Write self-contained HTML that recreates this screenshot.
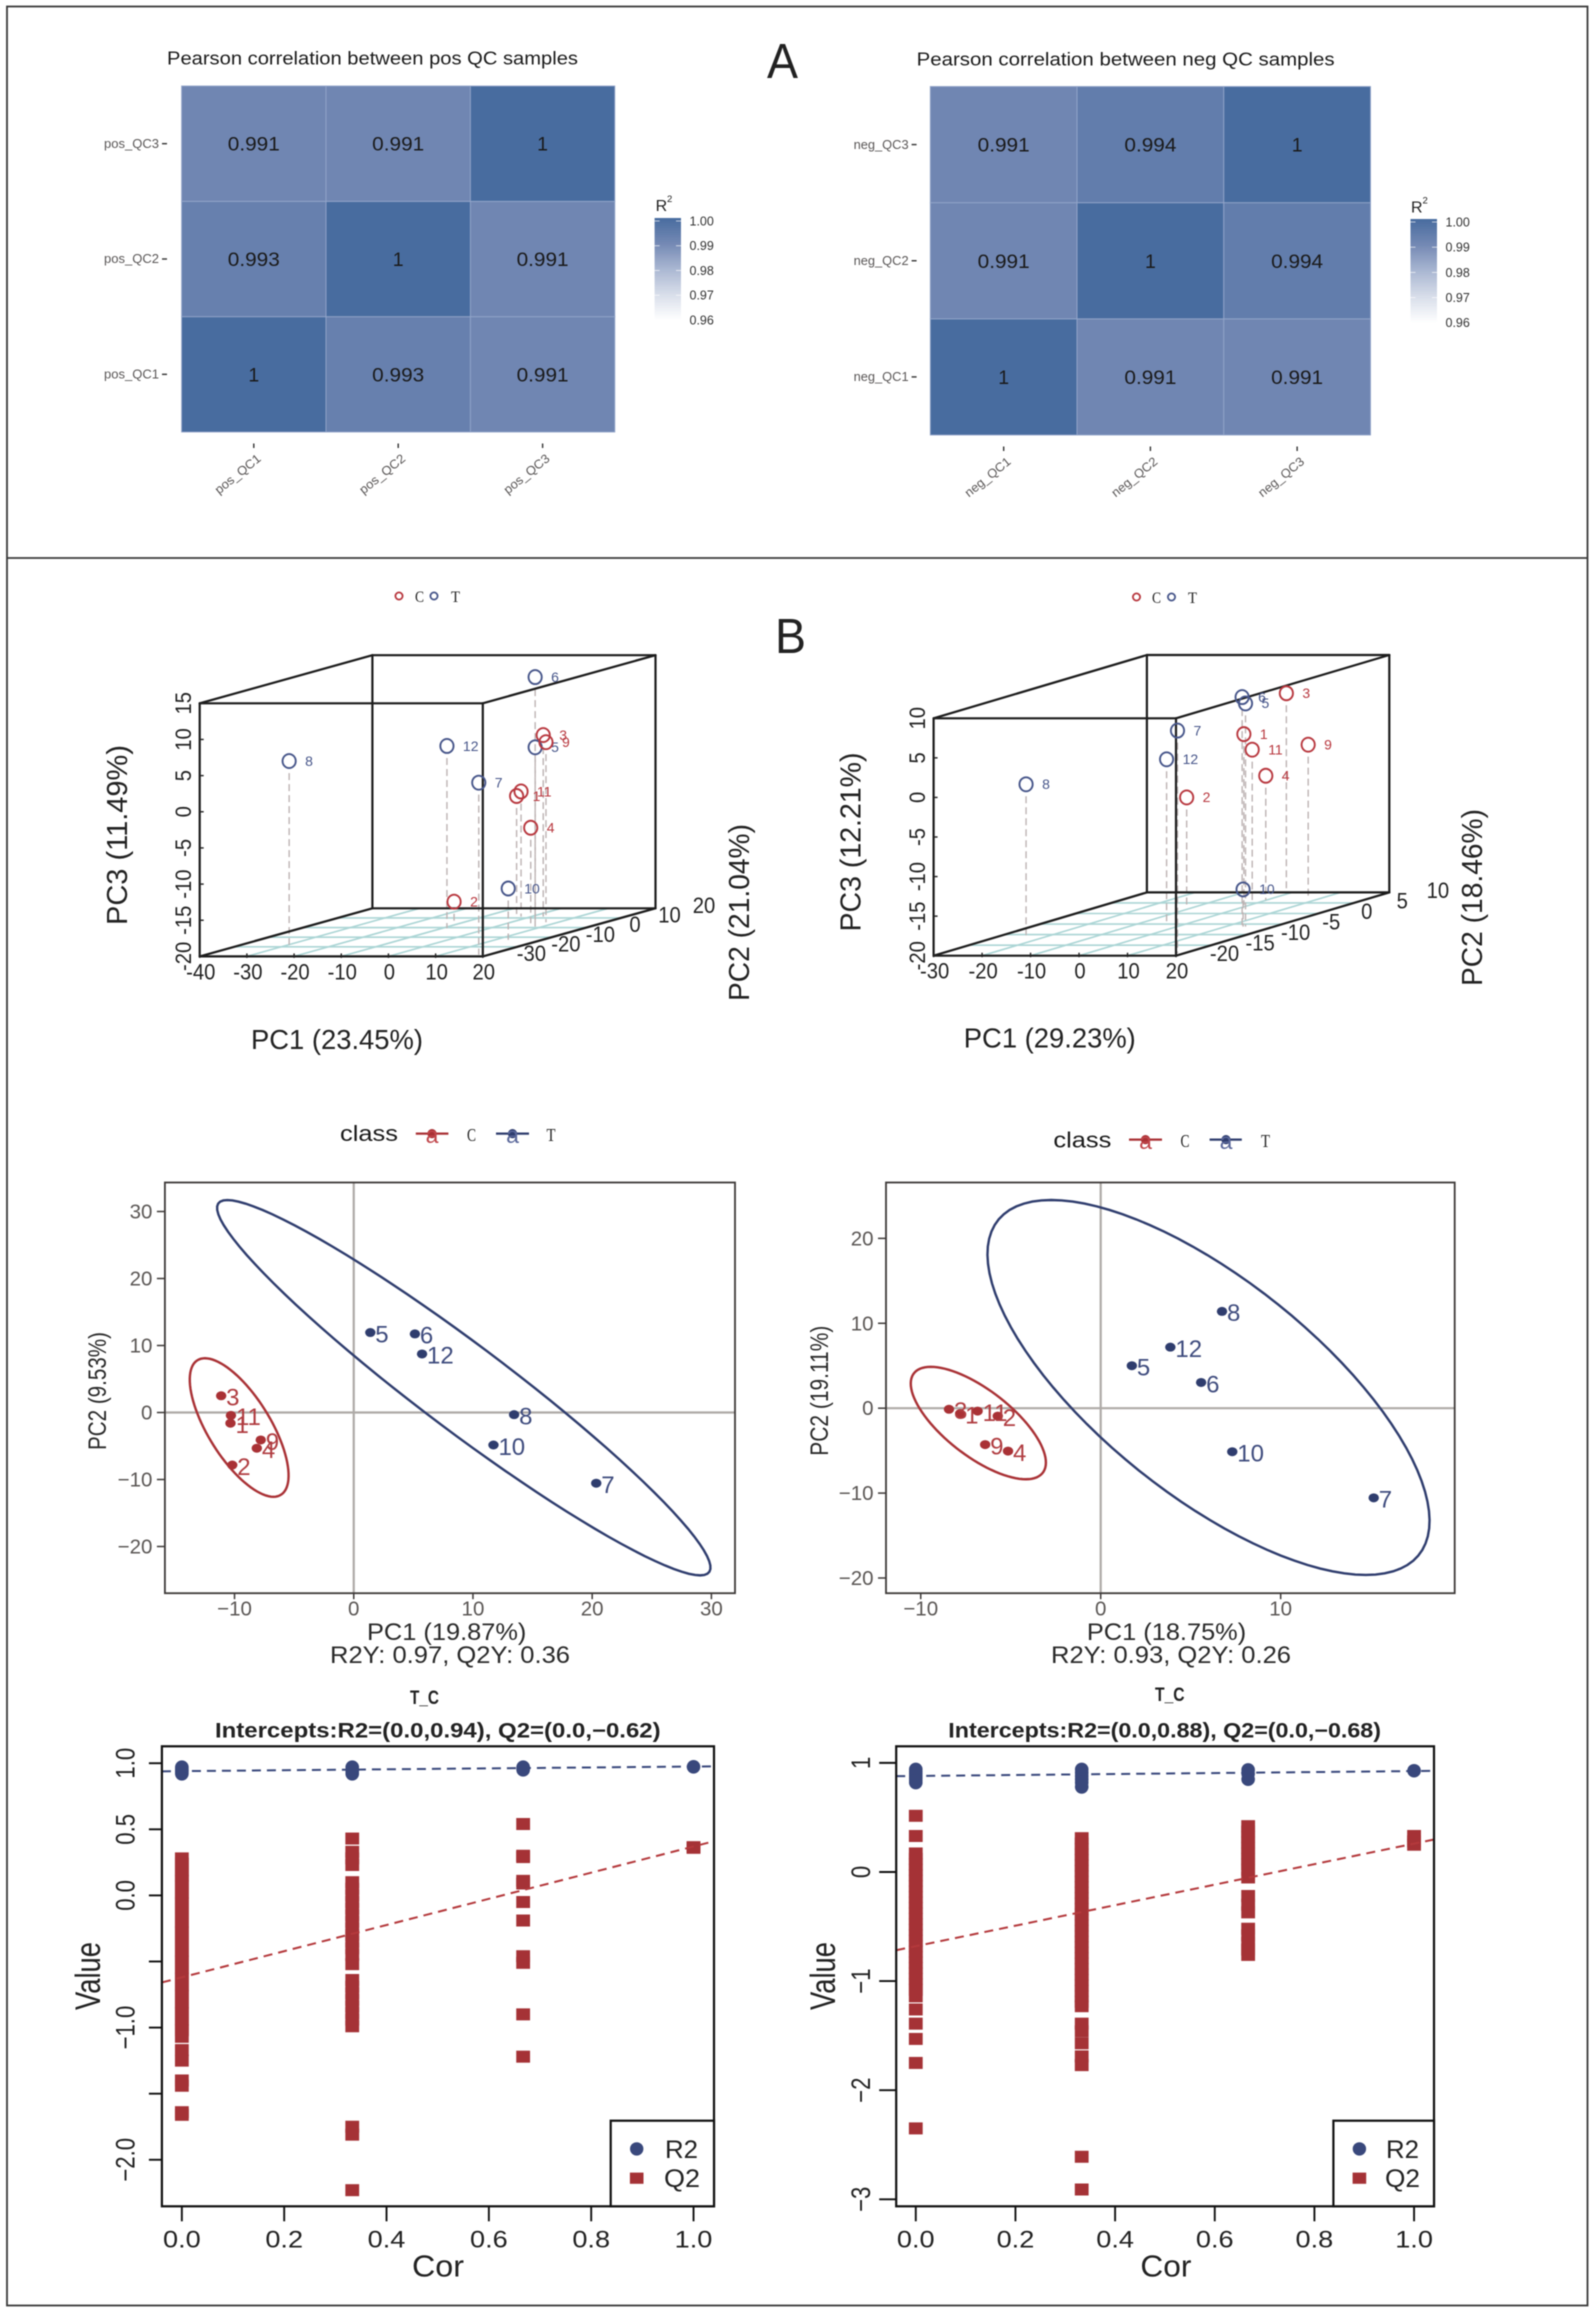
<!DOCTYPE html>
<html lang="en">
<head>
<meta charset="utf-8">
<title>QC correlation and PCA figure</title>
<style>
html,body{margin:0;padding:0;background:#fff;}
svg{display:block;font-family:"Liberation Sans",sans-serif;filter:blur(.5px);}
.serif{font-family:"Liberation Serif",serif;}
</style>
</head>
<body>
<svg id="figure" width="1595" height="2313" viewBox="0 0 1595 2313" xmlns="http://www.w3.org/2000/svg">
<defs id="defs"></defs>
<rect x="0" y="0" width="1595" height="2313" fill="#fff"/>
<rect x="7" y="6.5" width="1580.5" height="2299" fill="none" stroke="#3a3a3a" stroke-width="1.8"/>
<line x1="7" y1="558" x2="1587.5" y2="558" stroke="#3a3a3a" stroke-width="1.8"/>
<text x="767" y="78" font-size="49" fill="#222" textLength="31" lengthAdjust="spacingAndGlyphs">A</text>
<text x="775" y="653" font-size="49" fill="#222" textLength="31" lengthAdjust="spacingAndGlyphs">B</text>

<g id="hm-pos">
<text x="167" y="64.7" font-size="18" fill="#1a1a1a" textLength="411" lengthAdjust="spacingAndGlyphs">Pearson correlation between pos QC samples</text>
<text x="655.6" y="211" font-size="16" fill="#222">R</text>
<text x="667" y="202" font-size="9.5" fill="#222">2</text>
</g>
<g id="hm-neg">
<text x="916.6" y="65.5" font-size="18" fill="#1a1a1a" textLength="418" lengthAdjust="spacingAndGlyphs">Pearson correlation between neg QC samples</text>
<text x="1411" y="212.4" font-size="16" fill="#222">R</text>
<text x="1422.5" y="203.4" font-size="9.5" fill="#222">2</text>
</g>

<g id="s3d-pos">
<circle cx="399" cy="596" r="3.6" fill="none" stroke="#b8383f" stroke-width="1.8"/>
<text class="serif" x="415" y="602" font-size="16" fill="#222" textLength="9" lengthAdjust="spacingAndGlyphs">C</text>
<circle cx="434" cy="596" r="3.6" fill="none" stroke="#47568a" stroke-width="1.8"/>
<text class="serif" x="451" y="602" font-size="16" fill="#222" textLength="9" lengthAdjust="spacingAndGlyphs">T</text>
<text x="251" y="1049" font-size="28" fill="#222" textLength="172" lengthAdjust="spacingAndGlyphs">PC1 (23.45%)</text>
<text transform="translate(127,925) rotate(-90)" font-size="29" fill="#222" textLength="180" lengthAdjust="spacingAndGlyphs">PC3 (11.49%)</text>
<text transform="translate(749,1001) rotate(-90)" font-size="29" fill="#222" textLength="177" lengthAdjust="spacingAndGlyphs">PC2 (21.04%)</text>
</g>
<g id="s3d-neg">
<circle cx="1136.5" cy="597" r="3.6" fill="none" stroke="#b8383f" stroke-width="1.8"/>
<text class="serif" x="1152" y="603" font-size="16" fill="#222" textLength="9" lengthAdjust="spacingAndGlyphs">C</text>
<circle cx="1171.5" cy="597" r="3.6" fill="none" stroke="#47568a" stroke-width="1.8"/>
<text class="serif" x="1188" y="603" font-size="16" fill="#222" textLength="9" lengthAdjust="spacingAndGlyphs">T</text>
<text x="963.8" y="1047.6" font-size="28" fill="#222" textLength="172" lengthAdjust="spacingAndGlyphs">PC1 (29.23%)</text>
<text transform="translate(860.4,931.5) rotate(-90)" font-size="29" fill="#222" textLength="179" lengthAdjust="spacingAndGlyphs">PC3 (12.21%)</text>
<text transform="translate(1482,986) rotate(-90)" font-size="29" fill="#222" textLength="177" lengthAdjust="spacingAndGlyphs">PC2 (18.46%)</text>
</g>

<g id="pca-pos">
<text x="340" y="1141" font-size="22" fill="#1a1a1a" textLength="58" lengthAdjust="spacingAndGlyphs">class</text>
<line x1="415.8" y1="1133.6" x2="448.4" y2="1133.6" stroke="#a93135" stroke-width="2.2"/>
<circle cx="432" cy="1133.6" r="4.6" fill="#a93135"/>
<text x="432" y="1143" font-size="23" text-anchor="middle" fill="#c0454a">a</text>
<text class="serif" x="467" y="1141" font-size="18" fill="#222" textLength="9" lengthAdjust="spacingAndGlyphs">C</text>
<line x1="496" y1="1133.6" x2="529" y2="1133.6" stroke="#2f3d6e" stroke-width="2.2"/>
<circle cx="512.5" cy="1133.6" r="4.6" fill="#2f3d6e"/>
<text x="512.5" y="1143" font-size="23" text-anchor="middle" fill="#5a679a">a</text>
<text class="serif" x="546.5" y="1141" font-size="18" fill="#222" textLength="9" lengthAdjust="spacingAndGlyphs">T</text>
<text x="367" y="1640" font-size="24" fill="#2a2a2a" textLength="159.4" lengthAdjust="spacingAndGlyphs">PC1 (19.87%)</text>
<text x="330" y="1663" font-size="24" fill="#2a2a2a" textLength="240" lengthAdjust="spacingAndGlyphs">R2Y: 0.97, Q2Y: 0.36</text>
<text transform="translate(106,1450) rotate(-90)" font-size="25" fill="#2a2a2a" textLength="118" lengthAdjust="spacingAndGlyphs">PC2 (9.53%)</text>
</g>
<g id="pca-neg">
<text x="1053.4" y="1147.5" font-size="22" fill="#1a1a1a" textLength="58" lengthAdjust="spacingAndGlyphs">class</text>
<line x1="1129" y1="1139.6" x2="1162" y2="1139.6" stroke="#a93135" stroke-width="2.2"/>
<circle cx="1145.5" cy="1139.6" r="4.6" fill="#a93135"/>
<text x="1145.5" y="1149" font-size="23" text-anchor="middle" fill="#c0454a">a</text>
<text class="serif" x="1180.5" y="1147" font-size="18" fill="#222" textLength="9" lengthAdjust="spacingAndGlyphs">C</text>
<line x1="1209.6" y1="1139.6" x2="1241.8" y2="1139.6" stroke="#2f3d6e" stroke-width="2.2"/>
<circle cx="1226" cy="1139.6" r="4.6" fill="#2f3d6e"/>
<text x="1226" y="1149" font-size="23" text-anchor="middle" fill="#5a679a">a</text>
<text class="serif" x="1261" y="1147" font-size="18" fill="#222" textLength="9" lengthAdjust="spacingAndGlyphs">T</text>
<text x="1086.9" y="1640" font-size="24" fill="#2a2a2a" textLength="159.3" lengthAdjust="spacingAndGlyphs">PC1 (18.75%)</text>
<text x="1051" y="1663" font-size="24" fill="#2a2a2a" textLength="240" lengthAdjust="spacingAndGlyphs">R2Y: 0.93, Q2Y: 0.26</text>
<text transform="translate(828,1455.7) rotate(-90)" font-size="25" fill="#2a2a2a" textLength="130" lengthAdjust="spacingAndGlyphs">PC2 (19.11%)</text>
</g>

<g id="perm-pos">
<text x="410" y="1704" font-size="19" font-weight="bold" fill="#222" textLength="29" lengthAdjust="spacingAndGlyphs">T_C</text>
<text x="215" y="1737.5" font-size="21" font-weight="bold" fill="#222" textLength="445.6" lengthAdjust="spacingAndGlyphs">Intercepts:R2=(0.0,0.94), Q2=(0.0,−0.62)</text>
<text x="412" y="2276.6" font-size="31" fill="#222" textLength="52" lengthAdjust="spacingAndGlyphs">Cor</text>
<text transform="translate(100,2010) rotate(-90)" font-size="35" fill="#222" textLength="68" lengthAdjust="spacingAndGlyphs">Value</text>
</g>
<g id="perm-neg">
<text x="1155" y="1701" font-size="19" font-weight="bold" fill="#222" textLength="29.6" lengthAdjust="spacingAndGlyphs">T_C</text>
<text x="948.3" y="1737.5" font-size="21" font-weight="bold" fill="#222" textLength="432.7" lengthAdjust="spacingAndGlyphs">Intercepts:R2=(0.0,0.88), Q2=(0.0,−0.68)</text>
<text x="1140.4" y="2276.6" font-size="31" fill="#222" textLength="51" lengthAdjust="spacingAndGlyphs">Cor</text>
<text transform="translate(835,2010) rotate(-90)" font-size="35" fill="#222" textLength="68" lengthAdjust="spacingAndGlyphs">Value</text>
</g>
<g id="perm-legend-labels">
<text x="665" y="2158" font-size="25" fill="#222" textLength="33" lengthAdjust="spacingAndGlyphs">R2</text>
<text x="664" y="2187" font-size="25" fill="#222" textLength="36" lengthAdjust="spacingAndGlyphs">Q2</text>
<text x="1386" y="2158" font-size="25" fill="#222" textLength="33" lengthAdjust="spacingAndGlyphs">R2</text>
<text x="1385" y="2187" font-size="25" fill="#222" textLength="35" lengthAdjust="spacingAndGlyphs">Q2</text>
</g>
</svg>

<script>
// ---------- heatmap data ----------
const hmPosCategories = ['pos_QC1', 'pos_QC2', 'pos_QC3'];
const hmPosValues = [[1, 0.993, 0.991], [0.993, 1, 0.991], [0.991, 0.991, 1]];
const hmNegCategories = ['neg_QC1', 'neg_QC2', 'neg_QC3'];
const hmNegValues = [[1, 0.991, 0.991], [0.991, 1, 0.994], [0.991, 0.994, 1]];
const colorbarTicks = [1, 0.99, 0.98, 0.97, 0.96];
const colorDomain = [0.96, 0.97, 0.98, 0.99, 1];
const colorRange = ['#ffffff', '#d8deea', '#aab7d2', '#7489b4', '#486c9f'];

// ---------- 3D scatter data (sample ids 1..12) ----------
const sampleIds = [1, 2, 3, 4, 5, 6, 7, 8, 9, 10, 11, 12];
const sampleClasses = ['C', 'C', 'C', 'C', 'T', 'T', 'T', 'T', 'C', 'T', 'C', 'T'];
const s3dPosPC1 = [-1.9, -10.1, 2.5, 4.9, 4.6, 8.4, 17.9, -29.9, 7.4, 12.8, -2.2, -9.05];
const s3dPosPC2 = [-0.3, -7.2, 1.4, -5.5, -3.8, -9, -38.3, -27.9, -4.5, -22.8, 1.4, -10.7];
const s3dPosPC3 = [-3.1, -16.8, 5.1, -6.8, 4.1, 14.5, 3.8, 5.4, 4.9, -12.9, -2.7, 5.2];
const s3dPosPC1Ticks = [-40, -30, -20, -10, 0, 10, 20];
const s3dPosPC2Ticks = [-30, -20, -10, 0, 10, 20];
const s3dPosPC3Ticks = [-20, -15, -10, -5, 0, 5, 10, 15];
const s3dNegPC1 = [-1.2, -11.9, -0.5, -0.2, 14.1, 13.4, 18.4, -23.1, 6.2, 13.6, -3, -5.7];
const s3dNegPC2 = [-1, -1.75, 4.5, 1.4, -11.2, -11.2, -23.7, -16.7, 3, -11.2, 1.4, -8.8];
const s3dNegPC3 = [1.6, -6.2, 5.3, -4.3, 8.2, 9, 8.1, -0.55, -0.8, -15.3, -1, 0.5];
const s3dNegPC1Ticks = [-30, -20, -10, 0, 10, 20];
const s3dNegPC2Ticks = [-20, -15, -10, -5, 0, 5, 10];
const s3dNegPC3Ticks = [-20, -15, -10, -5, 0, 5, 10];

// ---------- score plot data ----------
const pcaPosPC1 = [-10.34, -10.19, -11.12, -8.13, 1.39, 5.13, 20.34, 13.45, -7.8, 11.72, -10.3, 5.73];
const pcaPosPC2 = [-1.6, -7.84, 2.5, -5.33, 11.94, 11.73, -10.55, -0.32, -4.1, -4.85, -0.43, 8.74];
const pcaPosXTicks = [-10, 0, 10, 20, 30];
const pcaPosYTicks = [-20, -10, 0, 10, 20, 30];
const pcaPosEllipseCCenter = [-9.61, -2.24];
const pcaPosEllipseCU = [2.87, -10.34];
const pcaPosEllipseCV = [2.99, 0];
const pcaPosEllipseTCenter = [9.23, 3.7];
const pcaPosEllipseTU = [19.83, -28.01];
const pcaPosEllipseTV = [5.92, 0];

const pcaNegPC1 = [-7.81, -5.72, -8.43, -5.15, 1.73, 5.58, 15.17, 6.74, -6.42, 7.31, -6.84, 3.87];
const pcaNegPC2 = [-0.63, -0.93, -0.13, -5.05, 5, 3.03, -10.56, 11.4, -4.29, -5.13, -0.34, 7.19];
const pcaNegXTicks = [-10, 0, 10];
const pcaNegYTicks = [-20, -10, 0, 10, 20];
const pcaNegEllipseCCenter = [-6.8, -1.75];
const pcaNegEllipseCU = [2.64, -6.62];
const pcaNegEllipseCV = [2.67, 0];
const pcaNegEllipseTCenter = [5.99, 2.44];
const pcaNegEllipseTU = [8.74, -22.08];
const pcaNegEllipseTV = [8.63, 0];

// ---------- permutation plot data ----------
const permCorLevels = [0, 0.333, 0.667, 1];
const permXTicks = [0, 0.2, 0.4, 0.6, 0.8, 1];
const permPosYTicks = [1, 0.5, 0, -0.5, -1, -1.5, -2];
const permPosYLabels = ['1.0', '0.5', '0.0', '', '−1.0', '', '−2.0'];
const permPosR2 = [
  [0.92, 0.93, 0.94, 0.95, 0.96, 0.97],
  [0.92, 0.93, 0.94, 0.95, 0.96, 0.97],
  [0.95, 0.96, 0.97],
  [0.973]
];
const permPosQ2 = [
  [0.28, 0.24, 0.19, 0.15, 0.11, 0.07, 0.02, -0.02, -0.06, -0.11, -0.15, -0.2, -0.24, -0.28, -0.33, -0.37, -0.42, -0.46, -0.5, -0.55, -0.59, -0.63, -0.68, -0.72, -0.76, -0.81, -0.85, -0.89, -0.94, -0.98, -1.02, -1.07, -1.17, -1.25, -1.4, -1.44, -1.64, -1.66],
  [0.43, 0.33, 0.28, 0.23, 0.1, 0.05, 0, -0.05, -0.1, -0.15, -0.2, -0.25, -0.3, -0.35, -0.4, -0.45, -0.52, -0.64, -0.69, -0.74, -0.79, -0.84, -0.89, -0.94, -0.99, -1.75, -1.81, -2.23],
  [0.54, 0.3, 0.29, 0.11, 0.09, -0.05, -0.19, -0.46, -0.51, -0.9, -1.22],
  [0.36, 0.365]
];
const permPosR2Line = [0.94, 0.975];
const permPosQ2Line = [-0.62, 0.37];

const permNegYTicks = [1, 0, -1, -2, -3];
const permNegYLabels = ['1', '0', '−1', '−2', '−3'];
const permNegR2 = [
  [0.94, 0.92, 0.9, 0.88, 0.86, 0.84, 0.82],
  [0.94, 0.91, 0.88, 0.85, 0.82, 0.78],
  [0.935, 0.9, 0.85],
  [0.928]
];
const permNegQ2 = [
  [0.515, 0.33, 0.17, 0.12, 0.07, 0.02, -0.03, -0.08, -0.13, -0.18, -0.23, -0.28, -0.33, -0.38, -0.43, -0.48, -0.53, -0.58, -0.63, -0.68, -0.73, -0.78, -0.83, -0.88, -0.93, -0.98, -1.03, -1.08, -1.14, -1.26, -1.39, -1.53, -1.75, -2.35],
  [0.31, 0.26, 0.21, 0.16, 0.11, 0.06, 0.01, -0.04, -0.09, -0.14, -0.19, -0.24, -0.29, -0.34, -0.39, -0.44, -0.49, -0.54, -0.59, -0.64, -0.69, -0.74, -0.79, -0.84, -0.89, -0.94, -0.99, -1.04, -1.09, -1.14, -1.19, -1.23, -1.39, -1.46, -1.57, -1.69, -1.77, -2.61, -2.91],
  [0.42, 0.37, 0.32, 0.27, 0.22, 0.17, 0.12, 0.07, 0.02, -0.05, -0.22, -0.3, -0.37, -0.52, -0.58, -0.65, -0.71, -0.76],
  [0.33, 0.28, 0.25]
];
const permNegR2Line = [0.88, 0.925];
const permNegQ2Line = [-0.68, 0.26];

// ---------- helpers ----------
const SVGNS = 'http://www.w3.org/2000/svg';
const RED = '#a93135', NAVY = '#2f3d6e';
function mk(parent, tag, attrs, text) {
  const node = document.createElementNS(SVGNS, tag);
  for (const k in attrs) node.setAttribute(k, attrs[k]);
  if (text !== undefined) node.textContent = text;
  parent.appendChild(node);
  return node;
}
function linear(d0, d1, r0, r1) {
  return v => r0 + (v - d0) / (d1 - d0) * (r1 - r0);
}
function hexToRgb(h) {
  return [parseInt(h.slice(1, 3), 16), parseInt(h.slice(3, 5), 16), parseInt(h.slice(5, 7), 16)];
}
function colorScale(v) {
  let i = 0;
  while (i < colorDomain.length - 2 && v > colorDomain[i + 1]) i++;
  const f = (v - colorDomain[i]) / (colorDomain[i + 1] - colorDomain[i]);
  const a = hexToRgb(colorRange[i]), b = hexToRgb(colorRange[i + 1]);
  return 'rgb(' + a.map((c, j) => Math.round(c + (b[j] - c) * f)).join(',') + ')';
}
const minus = v => (v < 0 ? '−' + Math.abs(v) : String(v));

// ---------- colour gradient ----------
const grad = mk(document.getElementById('defs'), 'linearGradient', {id: 'r2grad', x1: 0, y1: 1, x2: 0, y2: 0});
colorDomain.forEach((d, i) => {
  mk(grad, 'stop', {offset: (d - 0.96) / 0.04, 'stop-color': colorRange[i]});
});

// ---------- heatmap ----------
function drawHeatmap(id, cats, values, b) {
  const g = document.getElementById(id);
  const w = (b.x1 - b.x0) / 3, h = (b.y1 - b.y0) / 3;
  const bx = i => b.x0 + (i + 0.5) * w;
  const by = i => b.y1 - (i + 0.5) * h;
  values.forEach((row, r) => row.forEach((v, c) => {
    const cell = mk(g, 'rect', {x: bx(c) - w / 2, y: by(r) - h / 2, width: w, height: h, fill: colorScale(v), stroke: '#93a5c9', 'stroke-width': 0.9});
    
    
  }));
  values.forEach((row, r) => row.forEach((v, c) => {
    const attrs = {x: bx(c), y: by(r) + 7, 'font-size': 19.5, 'text-anchor': 'middle', fill: '#1a1a1a'};
    if (v !== 1) { attrs.textLength = 52; attrs.lengthAdjust = 'spacingAndGlyphs'; }
    const label = mk(g, 'text', attrs, String(v));
    
    
  }));
  cats.forEach((cat, i) => {
    const yl = mk(g, 'text', {x: b.tickX - 3, y: by(i) + 4.2, 'font-size': 12.5, 'text-anchor': 'end', fill: '#5a5757', textLength: 55, lengthAdjust: 'spacingAndGlyphs'}, cat);
    
    
    const yt = mk(g, 'line', {x1: b.tickX, x2: b.tickX + 5, y1: by(i), y2: by(i), stroke: '#333', 'stroke-width': 1.4});
    
    
    const xt = mk(g, 'line', {x1: bx(i), x2: bx(i), y1: b.y1 + 11.5, y2: b.y1 + 16, stroke: '#333', 'stroke-width': 1.4});
    
    
    const xl = mk(g, 'text', {transform: 'translate(' + (bx(i) + 8) + ',' + (b.y1 + 28) + ') rotate(-39)', 'font-size': 12.5, 'text-anchor': 'end', fill: '#5a5757', textLength: 55, lengthAdjust: 'spacingAndGlyphs'}, cat);
    
    
  });
  const cb = mk(g, 'rect', {x: b.cbX, y: b.cbTop, width: b.cbW, height: b.cbBottom - b.cbTop, fill: 'url(#r2grad)'});
  
  
  const cy = linear(0.96, 1, b.cbBottom, b.cbTop + 3);
  colorbarTicks.forEach(v => {
    const tl = mk(g, 'line', {x1: b.cbX, x2: b.cbX + 5, y1: cy(v), y2: cy(v), stroke: '#fff', 'stroke-width': 0.8, opacity: 0.8});
    
    
    const tr = mk(g, 'line', {x1: b.cbX + b.cbW - 5, x2: b.cbX + b.cbW, y1: cy(v), y2: cy(v), stroke: '#fff', 'stroke-width': 0.8, opacity: 0.8});
    
    
    const t = mk(g, 'text', {x: b.cbX + b.cbW + 8.5, y: cy(v) + 4.4, 'font-size': 12.5, fill: '#333'}, v.toFixed(2));
    
    
  });
}
drawHeatmap('hm-pos', hmPosCategories, hmPosValues, {x0: 181.6, x1: 614.8, y0: 86, y1: 432, tickX: 162, cbX: 654.6, cbW: 26.4, cbTop: 218, cbBottom: 320});
drawHeatmap('hm-neg', hmNegCategories, hmNegValues, {x0: 930.3, x1: 1370.5, y0: 86.5, y1: 435, tickX: 911.6, cbX: 1410.5, cbW: 26.5, cbTop: 219, cbBottom: 322.8});

// ---------- 3D scatter ----------
function draw3d(id, pc1, pc2, pc3, t1, t2, t3, c) {
  const g = document.getElementById(id);
  const f1 = linear(c.a[0], c.a[1], 0, 1), f2 = linear(c.b[0], c.b[1], 0, 1), f3 = linear(c.c[0], c.c[1], 0, 1);
  const px = (a, b) => c.x0 + f1(a) * c.wx + f2(b) * c.dx;
  const py = (b, z) => c.y0 - f3(z) * c.hz - f2(b) * c.dy;
  const [a0, a1] = c.a, [b0, b1] = c.b, [z0, z1] = c.c;
  // floor grid
  t2.filter(v => v > b0 && v < b1).forEach(v => {
    const r = mk(g, 'line', {x1: px(a0, v), y1: py(v, z0), x2: px(a1, v), y2: py(v, z0), stroke: '#abd5d5', 'stroke-width': 1.6});
    
    
  });
  t1.filter(v => v > a0 && v < a1).forEach(v => {
    const r = mk(g, 'line', {x1: px(v, b0), y1: py(b0, z0), x2: px(v, b1), y2: py(b1, z0), stroke: '#abd5d5', 'stroke-width': 1.6});
    
    
  });
  // drop lines
  pc1.forEach((v, i) => {
    const d = mk(g, 'line', {x1: px(v, pc2[i]), y1: py(pc2[i], pc3[i]) + 12, x2: px(v, pc2[i]), y2: py(pc2[i], z0), stroke: '#bdb3b3', 'stroke-width': 1.4, 'stroke-dasharray': '7 4'});
    
    
  });
  // box
  const edges = [
    [a0, b1, z0, a0, b1, z1], [a0, b1, z1, a1, b1, z1], [a1, b1, z1, a1, b1, z0], [a0, b1, z0, a1, b1, z0],
    [a0, b0, z1, a0, b1, z1], [a1, b0, z1, a1, b1, z1], [a0, b0, z0, a0, b1, z0], [a1, b0, z0, a1, b1, z0],
    [a0, b0, z0, a0, b0, z1], [a0, b0, z1, a1, b0, z1], [a1, b0, z1, a1, b0, z0], [a0, b0, z0, a1, b0, z0]
  ];
  edges.forEach(e => {
    const l = mk(g, 'line', {x1: px(e[0], e[1]), y1: py(e[1], e[2]), x2: px(e[3], e[4]), y2: py(e[4], e[5]), stroke: '#1c1c1c', 'stroke-width': 2.2, 'stroke-linecap': 'round'});
    
    
  });
  // ticks
  t1.forEach(v => {
    const tk = mk(g, 'line', {x1: px(v, b0), x2: px(v, b0), y1: c.y0 - 3, y2: c.y0 + 1.5, stroke: '#222', 'stroke-width': 1.4});
    
    
    const lb = mk(g, 'text', {transform: 'translate(' + (px(v, b0) + 1) + ',' + (c.y0 + 23) + ') scale(.92,1)', 'font-size': 22, 'text-anchor': 'middle', fill: '#222'}, String(v));
    
    
  });
  t3.forEach(v => {
    const tk = mk(g, 'line', {x1: c.x0, x2: c.x0 + 4, y1: py(b0, v), y2: py(b0, v), stroke: '#222', 'stroke-width': 1.4});
    
    
    const lb = mk(g, 'text', {transform: 'translate(' + (c.x0 - c.zOff) + ',' + py(b0, v) + ') rotate(-90) scale(.92,1)', 'font-size': 22, 'text-anchor': 'middle', fill: '#222'}, String(v));
    
    
  });
  t2.forEach(v => {
    const lb = mk(g, 'text', {transform: 'translate(' + (px(a1, v) + c.dLabX) + ',' + (py(v, z0) + c.dLabY + 8) + ') scale(.92,1)', 'font-size': 22, 'text-anchor': 'middle', fill: '#222'}, String(v));
    
    
  });
  // points
  pc1.forEach((v, i) => {
    const col = sampleClasses[i] === 'C' ? '#b8383f' : '#47568a';
    const cx = px(v, pc2[i]), cy = py(pc2[i], pc3[i]);
    const pt = mk(g, 'ellipse', {cx: cx, cy: cy, rx: 6.6, ry: 7, fill: 'none', stroke: col, 'stroke-width': 1.9});
    
    
    const lb = mk(g, 'text', {x: cx + 16, y: cy + 4.8, 'font-size': 14, fill: col}, String(sampleIds[i]));
    
    
  });
}
draw3d('s3d-pos', s3dPosPC1, s3dPosPC2, s3dPosPC3, s3dPosPC1Ticks, s3dPosPC2Ticks, s3dPosPC3Ticks,
  {a: [-40, 20], b: [-40, 10], c: [-20, 15], x0: 199.7, y0: 956.4, wx: 283.1, dx: 172.7, hz: 253.1, dy: 48.1, zOff: 8.7, dLabX: 14, dLabY: 6.3});
draw3d('s3d-neg', s3dNegPC1, s3dNegPC2, s3dNegPC3, s3dNegPC1Ticks, s3dNegPC2Ticks, s3dNegPC3Ticks,
  {a: [-30, 20], b: [-25, 5], c: [-20, 10], x0: 933.6, y0: 955.7, wx: 242.4, dx: 213.3, hz: 237.4, dy: 63.3, zOff: 8.6, dLabX: 13, dLabY: 8});

// ---------- score plots ----------
function ellipsePath(sx, sy, center, u, v) {
  let d = '';
  for (let k = 0; k <= 96; k++) {
    const t = k / 96 * 2 * Math.PI;
    const x = center[0] + u[0] * Math.cos(t) + v[0] * Math.sin(t);
    const y = center[1] + u[1] * Math.cos(t) + v[1] * Math.sin(t);
    d += (k ? 'L' : 'M') + sx(x).toFixed(2) + ' ' + sy(y).toFixed(2);
  }
  return d + 'Z';
}
function drawScore(id, xs, ys, xTicks, yTicks, ellC, ellT, c) {
  const g = document.getElementById(id);
  const sx = linear(c.xd[0], c.xd[1], c.x0, c.x1);
  const sy = linear(c.yd[0], c.yd[1], c.y1, c.y0);
  const hz = mk(g, 'line', {x1: c.x0, x2: c.x1, y1: sy(0), y2: sy(0), stroke: '#aeaaa7', 'stroke-width': 2.2});
  
  
  const vt = mk(g, 'line', {x1: sx(0), x2: sx(0), y1: c.y0, y2: c.y1, stroke: '#aeaaa7', 'stroke-width': 2.2});
  
  
  const frame = mk(g, 'rect', {x: c.x0, y: c.y0, width: c.x1 - c.x0, height: c.y1 - c.y0, fill: 'none', stroke: '#3e3a39', 'stroke-width': 1.8});
  
  
  xTicks.forEach(v => {
    const tk = mk(g, 'line', {x1: sx(v), x2: sx(v), y1: c.y1, y2: c.y1 + 6, stroke: '#3e3a39', 'stroke-width': 1.5});
    
    
    const lb = mk(g, 'text', {x: sx(v), y: c.y1 + 22.2, 'font-size': 20.5, 'text-anchor': 'middle', fill: '#5b5755'}, minus(v));
    
    
  });
  yTicks.forEach(v => {
    const tk = mk(g, 'line', {x1: c.x0 - 8, x2: c.x0, y1: sy(v), y2: sy(v), stroke: '#3e3a39', 'stroke-width': 1.5});
    
    
    const lb = mk(g, 'text', {x: c.x0 - 12.5, y: sy(v) + 7, 'font-size': 20.5, 'text-anchor': 'end', fill: '#5b5755'}, minus(v));
    
    
  });
  const e1 = mk(g, 'path', {d: ellipsePath(sx, sy, ellC[0], ellC[1], ellC[2]), fill: 'none', stroke: RED, 'stroke-width': 2.4});
  
  
  const e2 = mk(g, 'path', {d: ellipsePath(sx, sy, ellT[0], ellT[1], ellT[2]), fill: 'none', stroke: NAVY, 'stroke-width': 2.4});
  
  
  xs.forEach((v, i) => {
    const col = sampleClasses[i] === 'C' ? RED : NAVY;
    const txtCol = sampleClasses[i] === 'C' ? '#b03c40' : '#3f4c7e';
    const pt = mk(g, 'ellipse', {cx: sx(v), cy: sy(ys[i]), rx: 5.2, ry: 4.5, fill: col});
    
    
    const lb = mk(g, 'text', {x: sx(v) + 5, y: sy(ys[i]) + 9.8, 'font-size': 24, fill: txtCol}, String(sampleIds[i]));
    
    
  });
}
drawScore('pca-pos', pcaPosPC1, pcaPosPC2, pcaPosXTicks, pcaPosYTicks,
  [pcaPosEllipseCCenter, pcaPosEllipseCU, pcaPosEllipseCV], [pcaPosEllipseTCenter, pcaPosEllipseTU, pcaPosEllipseTV],
  {xd: [-15.84, 31.98], yd: [-26.97, 34.33], x0: 164.9, x1: 735, y0: 1182.5, y1: 1593.2});
drawScore('pca-neg', pcaNegPC1, pcaNegPC2, pcaNegXTicks, pcaNegYTicks,
  [pcaNegEllipseCCenter, pcaNegEllipseCU, pcaNegEllipseCV], [pcaNegEllipseTCenter, pcaNegEllipseTU, pcaNegEllipseTV],
  {xd: [-11.93, 19.67], yd: [-21.79, 26.58], x0: 886, x1: 1454.7, y0: 1182.5, y1: 1593.2});

// ---------- permutation plots ----------
function drawPerm(id, r2, q2, r2Line, q2Line, yTicks, yLabels, c) {
  const g = document.getElementById(id);
  const sx = linear(c.xd[0], c.xd[1], c.x0, c.x1);
  const sy = linear(c.yd[0], c.yd[1], c.y1, c.y0);
  const lineAt = (l, x) => l[0] + (l[1] - l[0]) * x;
  q2.forEach((vals, i) => vals.forEach(v => {
    const sq = mk(g, 'rect', {x: sx(permCorLevels[i]) - 6.9, y: sy(v) - 6, width: 13.8, height: 12, fill: '#a53236'});
    
    
  }));
  r2.forEach((vals, i) => vals.forEach(v => {
    const pt = mk(g, 'circle', {cx: sx(permCorLevels[i]), cy: sy(v), r: 6.8, fill: '#39487c'});
    
    
  }));
  const rl = mk(g, 'line', {x1: c.x0, y1: sy(lineAt(r2Line, c.xd[0])), x2: c.x1, y2: sy(lineAt(r2Line, c.xd[1])), stroke: '#39487c', 'stroke-width': 2, 'stroke-dasharray': '9 6'});
  
  
  const ql = mk(g, 'line', {x1: c.x0, y1: sy(lineAt(q2Line, c.xd[0])), x2: c.x1, y2: sy(lineAt(q2Line, c.xd[1])), stroke: '#b4393c', 'stroke-width': 2, 'stroke-dasharray': '9 6'});
  
  
  const box = mk(g, 'rect', {x: c.x0, y: c.y0, width: c.x1 - c.x0, height: c.y1 - c.y0, fill: 'none', stroke: '#111', 'stroke-width': 2.2});
  
  
  permXTicks.forEach(v => {
    const tk = mk(g, 'line', {x1: sx(v), x2: sx(v), y1: c.y1, y2: c.y1 + 15, stroke: '#111', 'stroke-width': 1.9});
    
    
    const lb = mk(g, 'text', {x: sx(v), y: 2247.7, 'font-size': 24.5, 'text-anchor': 'middle', fill: '#222', textLength: 37.7, lengthAdjust: 'spacingAndGlyphs'}, v.toFixed(1));
    
    
  });
  yTicks.forEach((v, i) => {
    const tk = mk(g, 'line', {x1: c.x0 - c.tickLen, x2: c.x0, y1: sy(v), y2: sy(v), stroke: '#111', 'stroke-width': 1.9});
    
    
    if (yLabels[i]) {
      const lb = mk(g, 'text', {transform: 'translate(' + c.labelX + ',' + sy(v) + ') rotate(-90) scale(.82,1)', 'font-size': 27, 'text-anchor': 'middle', fill: '#222'}, yLabels[i]);
      
      
    }
  });
  const lg = mk(g, 'rect', {x: c.lgX, y: 2120.7, width: c.x1 - c.lgX, height: c.y1 - 2120.7, fill: '#fff', stroke: '#111', 'stroke-width': 2.2});
  
  
  const lc = mk(g, 'circle', {cx: c.lgX + 26, cy: 2148.9, r: 6.7, fill: '#39487c'});
  
  
  const ls = mk(g, 'rect', {x: c.lgX + 19.2, y: 2172.6, width: 13.6, height: 11.2, fill: '#a53236'});
  
  
}
drawPerm('perm-pos', permPosR2, permPosQ2, permPosR2Line, permPosQ2Line, permPosYTicks, permPosYLabels,
  {xd: [-0.039, 1.04], yd: [-2.352, 1.128], x0: 161.9, x1: 714, y0: 1746.3, y1: 2206.3, tickLen: 13, labelX: 134.6, lgX: 610.7});
drawPerm('perm-neg', permNegR2, permNegQ2, permNegR2Line, permNegQ2Line, permNegYTicks, permNegYLabels,
  {xd: [-0.0393, 1.04], yd: [-3.064, 1.152], x0: 896.2, x1: 1434, y0: 1746.3, y1: 2206.3, tickLen: 17, labelX: 870, lgX: 1333.4});
</script>
</body>
</html>
